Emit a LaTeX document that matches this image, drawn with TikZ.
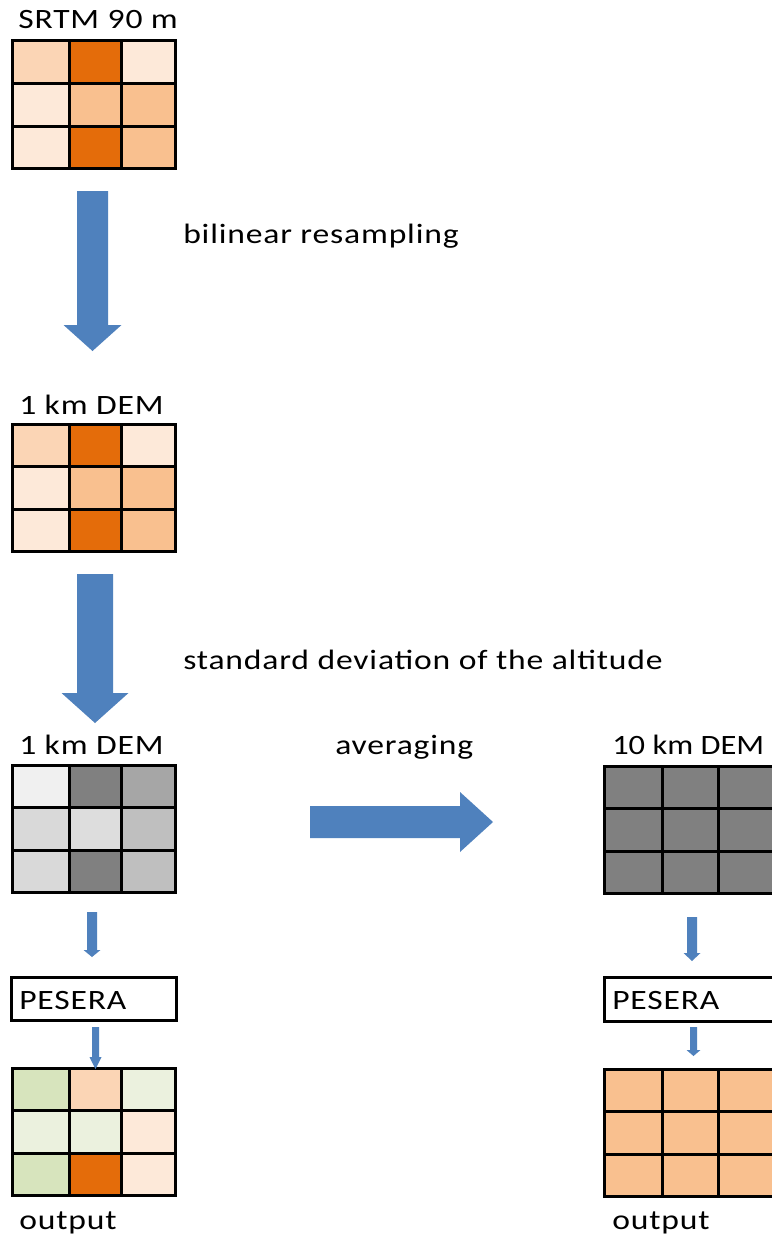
\documentclass[tikz,border=0pt]{standalone}
\usepackage{fontspec}
\setmainfont{Carlito}[FakeStretch=1.2,LetterSpace=3]
\definecolor{flow}{HTML}{4F81BD}
\definecolor{oA}{HTML}{FBD5B5}
\definecolor{oB}{HTML}{E46C0A}
\definecolor{oC}{HTML}{FDE9D9}
\definecolor{oD}{HTML}{F9C08F}
\definecolor{gA}{HTML}{F0F0F0}
\definecolor{gB}{HTML}{808080}
\definecolor{gC}{HTML}{A6A6A6}
\definecolor{gD}{HTML}{D9D9D9}
\definecolor{gE}{HTML}{DDDDDD}
\definecolor{gF}{HTML}{BFBFBF}
\definecolor{vA}{HTML}{D7E4BD}
\definecolor{vB}{HTML}{EBF1DE}

% 3x3 raster: name, left, top, column edges 1 and 2, right edge, nine colours row by row
\newcommand\cellgrid[7]{%
  \begin{scope}[shift={(#2,#3)}]
    \foreach \c [count=\k from 0] in {#7} {
      \pgfmathtruncatemacro\rr{div(\k,3)}
      \pgfmathtruncatemacro\qq{mod(\k,3)}
      \pgfmathsetmacro\xa{{0,#4,#5,#6}[\qq]}
      \pgfmathsetmacro\xb{{0,#4,#5,#6}[\qq+1]}
      \pgfmathsetmacro\ya{{0,42.5,85,127}[\rr]}
      \pgfmathsetmacro\yb{{0,42.5,85,127}[\rr+1]}
      \fill[\c] (\xa,\ya) rectangle (\xb,\yb);
    }
    \draw[gridline] (0,0) rectangle (#6,127);
    \draw[gridline] (#4,0) -- (#4,127) (#5,0) -- (#5,127)
                    (0,42.5) -- (#6,42.5) (0,85) -- (#6,85);
    \coordinate (#1-nw) at (0,0);
    \coordinate (#1-s) at (#6/2,127);
  \end{scope}}

% vertical block arrow: centre x, top, start of head, tip, shaft half width, head half width
\newcommand\downflow[6]{%
  \fill[flow] (#1-#5,#2) -- (#1+#5,#2) -- (#1+#5,#3) -- (#1+#6,#3)
    -- (#1,#4) -- (#1-#6,#3) -- (#1-#5,#3) -- cycle;}

\begin{document}
\begin{tikzpicture}[x=0.75pt,y=-0.75pt,
    gridline/.style={line width=2.25pt,black},
    boxline/.style={line width=2.25pt,black},
    lbl/.style={anchor=base west,inner sep=0pt,font=\fontsize{21}{25}\selectfont}]
\useasboundingbox (0,0) rectangle (771,1238);
\fill[white] (0,0) rectangle (771,1238);

% elevation rasters
\cellgrid{srtm}{12}{41}{57}{109}{163}{oA,oB,oC,oC,oD,oD,oC,oB,oD}
\cellgrid{dem}{12}{424}{57}{109}{163}{oA,oB,oC,oC,oD,oD,oC,oB,oD}
\cellgrid{sd}{12}{765}{57}{109}{163}{gA,gB,gC,gD,gE,gF,gD,gB,gF}
\cellgrid{coarse}{604}{766}{58}{114}{171}{gB,gB,gB,gB,gB,gB,gB,gB,gB}

% model output rasters
\cellgrid{outfine}{12}{1068}{57}{109}{163}{vA,oA,vB,vB,vB,oC,vA,oB,oC}
\cellgrid{outcoarse}{604}{1069}{58}{114}{171}{oD,oD,oD,oD,oD,oD,oD,oD,oD}

% labels
\node[lbl] (t1) at (18,29) {SRTM 90 m};
\node[lbl] (t2) at (19,414) {1 km DEM};
\node[lbl] (t3) at (19,754) {1 km DEM};
\node[lbl,font=\fontsize{21}{25}\selectfont\addfontfeature{LetterSpace=0,FakeStretch=1.16}]
  (t4) at (612,754) {10 km DEM};
\node[lbl] (l1) at (183,243) {bilinear resampling};
\node[lbl] (l2) at (183,669) {standard deviation of the altitude};
\node[lbl] (l3) at (335,754) {averaging};

% model boxes
\draw[boxline] (11,977) rectangle (176,1020);
\node[lbl] (p1) at (19,1009) {PESERA};
\draw[boxline] (604,977) rectangle (800,1021);
\node[lbl] (p2) at (612,1009) {PESERA};

\node[lbl] (o1) at (19,1229) {output};
\node[lbl] (o2) at (612,1229) {output};

% processing arrows
\downflow{92.5}{191}{325}{351}{15.5}{29}
\downflow{95}{574}{693}{723}{18}{33.5}
\fill[flow] (310,806) -- (460,806) -- (460,792) -- (493,822)
  -- (460,852) -- (460,838) -- (310,838) -- cycle;
\downflow{92}{912}{950}{957}{5}{8.5}
\downflow{692}{917}{953}{961}{5}{8.5}
\downflow{95.5}{1027}{1057}{1069}{3.5}{6}
\downflow{693.5}{1027}{1050}{1056}{3.5}{7}
\end{tikzpicture}
\end{document}
